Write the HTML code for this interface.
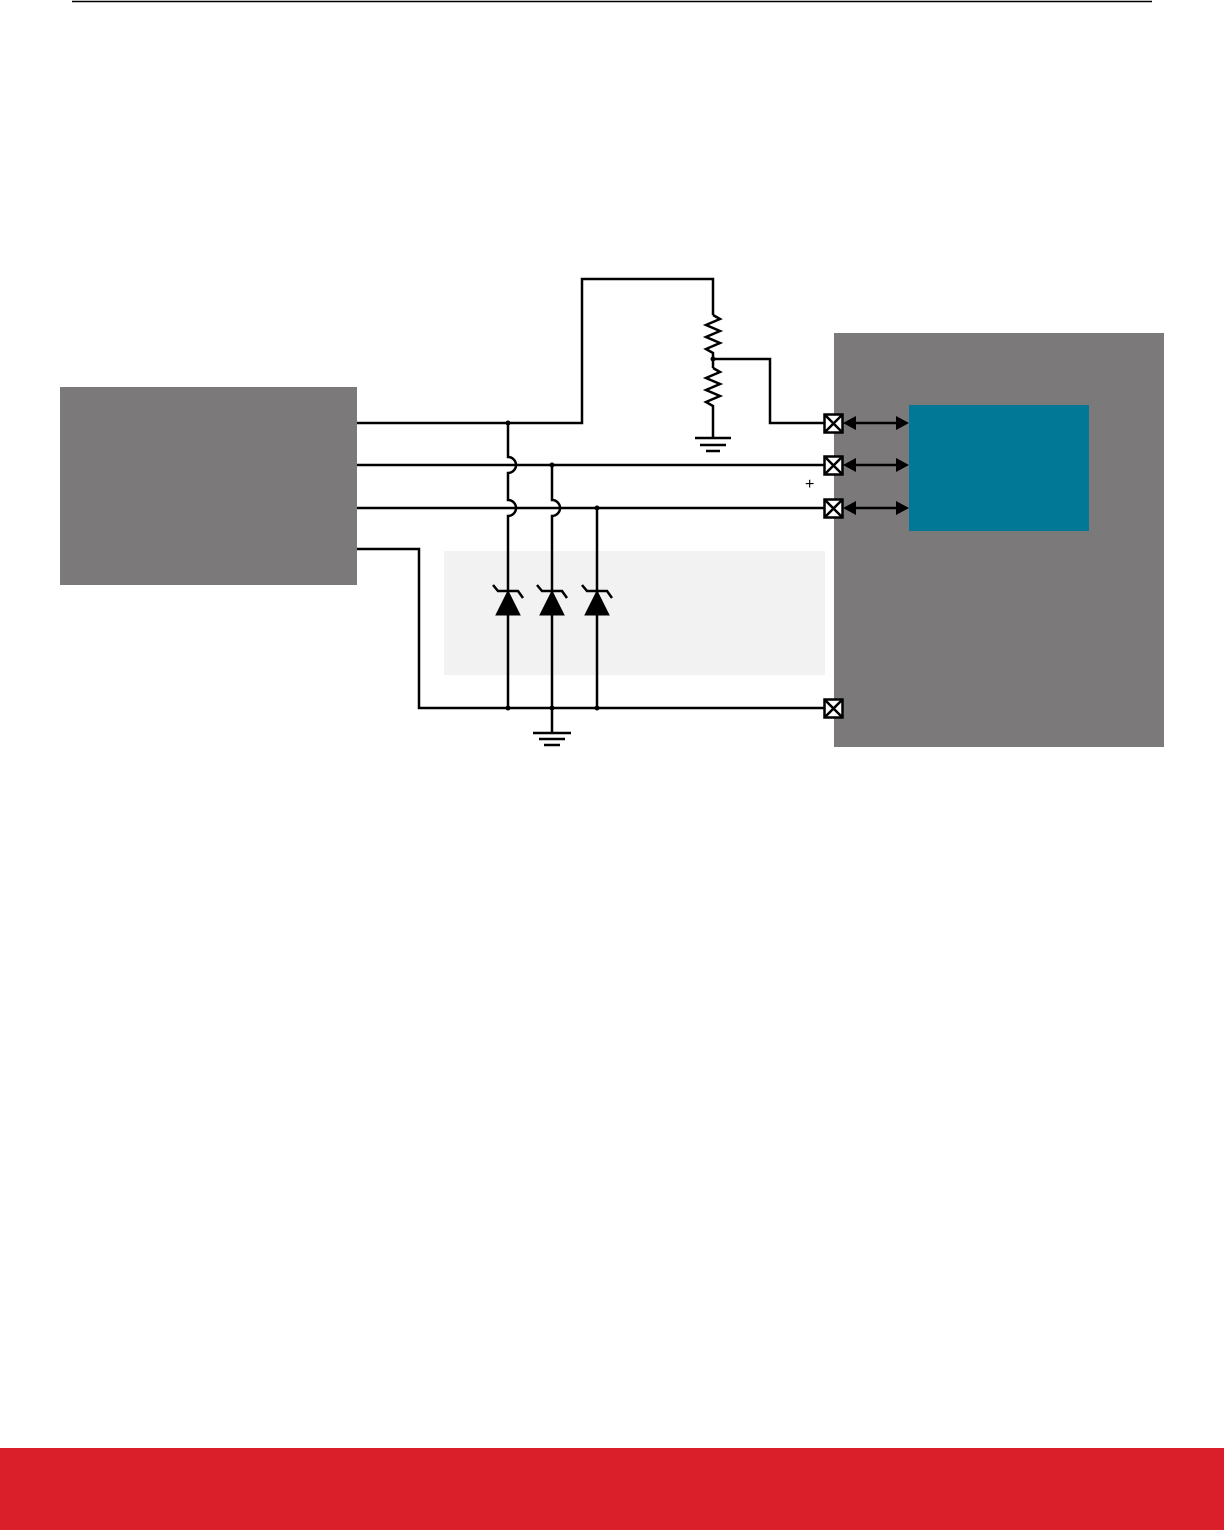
<!DOCTYPE html>
<html><head><style>
html,body{margin:0;padding:0;background:#fff;width:1224px;height:1530px;overflow:hidden}
</style></head><body>
<svg width="1224" height="1530" viewBox="0 0 1224 1530" xmlns="http://www.w3.org/2000/svg">
<line x1="72" y1="1.5" x2="1152" y2="1.5" stroke="#000" stroke-width="1.5"/>
<rect x="60" y="387" width="297" height="198" fill="#7b797a"/>
<rect x="834" y="333" width="330" height="414" fill="#7b797a"/>
<rect x="909" y="405" width="180" height="126" fill="#017896"/>
<rect x="444" y="551" width="381" height="124" fill="#f2f2f2"/>
<g stroke="#000" stroke-width="2.5" fill="none">
<path d="M357,423 H582 V279 H713 V315"/>
<path d="M713,315 l7,4 l-14,6 l14,6 l-14,6 l14,6 l-14,6 l7,4 V368"/>
<path d="M713,368 l7,4 l-14,6 l14,6 l-14,6 l14,6 l-14,6 l7,4 V438"/>
<path d="M695,438 H731 M700,445 H726 M706,451 H720"/>
<path d="M713,359 H770 V423 H824"/>
<path d="M357,465 H824"/>
<path d="M357,508 H824"/>
<path d="M357,549 H419 V708 H824"/>
<path d="M508,423 V457 a8,8 0 0 1 0,16 V500 a8,8 0 0 1 0,16 V708"/>
<path d="M552,465 V500 a8,8 0 0 1 0,16 V708"/>
<path d="M597,508 V708"/>
<path d="M552,708 V733 M533,733 H571 M539,739 H565 M544,745 H560"/>
<path d="M852,423 H900 M852,465 H900 M852,508 H900"/>
</g>
<g fill="#000">
<path d="M843,423 l13,-7 v14 Z M909,423 l-13,-7 v14 Z"/>
<path d="M843,465 l13,-7 v14 Z M909,465 l-13,-7 v14 Z"/>
<path d="M843,508 l13,-7 v14 Z M909,508 l-13,-7 v14 Z"/>
<circle cx="508" cy="423" r="2.5"/><circle cx="552" cy="465" r="2.5"/><circle cx="597" cy="508" r="2.5"/>
<circle cx="508" cy="708" r="2.5"/><circle cx="552" cy="708" r="2.5"/><circle cx="597" cy="708" r="2.5"/>
<circle cx="713" cy="359" r="2.5"/>
</g>
<g stroke="#000" fill="#000">
<g transform="translate(508,0)"><path d="M-12,615 L12,615 L0,591 Z" stroke-width="1"/><path d="M-15,585 l5,6 H10 l5,7" fill="none" stroke-width="2.5"/></g>
<g transform="translate(552,0)"><path d="M-12,615 L12,615 L0,591 Z" stroke-width="1"/><path d="M-15,585 l5,6 H10 l5,7" fill="none" stroke-width="2.5"/></g>
<g transform="translate(597,0)"><path d="M-12,615 L12,615 L0,591 Z" stroke-width="1"/><path d="M-15,585 l5,6 H10 l5,7" fill="none" stroke-width="2.5"/></g>
</g>
<g stroke="#000" stroke-width="2.5" fill="#fff">
<g id="c"><rect x="824.5" y="414.5" width="18" height="18"/><path d="M824.5,414.5 L842.5,432.5 M842.5,414.5 L824.5,432.5"/></g>
<use href="#c" y="42"/><use href="#c" y="85"/><use href="#c" y="285"/>
</g>
<text x="805" y="489" font-family="Liberation Sans, sans-serif" font-size="16" fill="#000">+</text>
<rect x="0" y="1448" width="1224" height="82" fill="#da1f2b"/>
</svg>
</body></html>
